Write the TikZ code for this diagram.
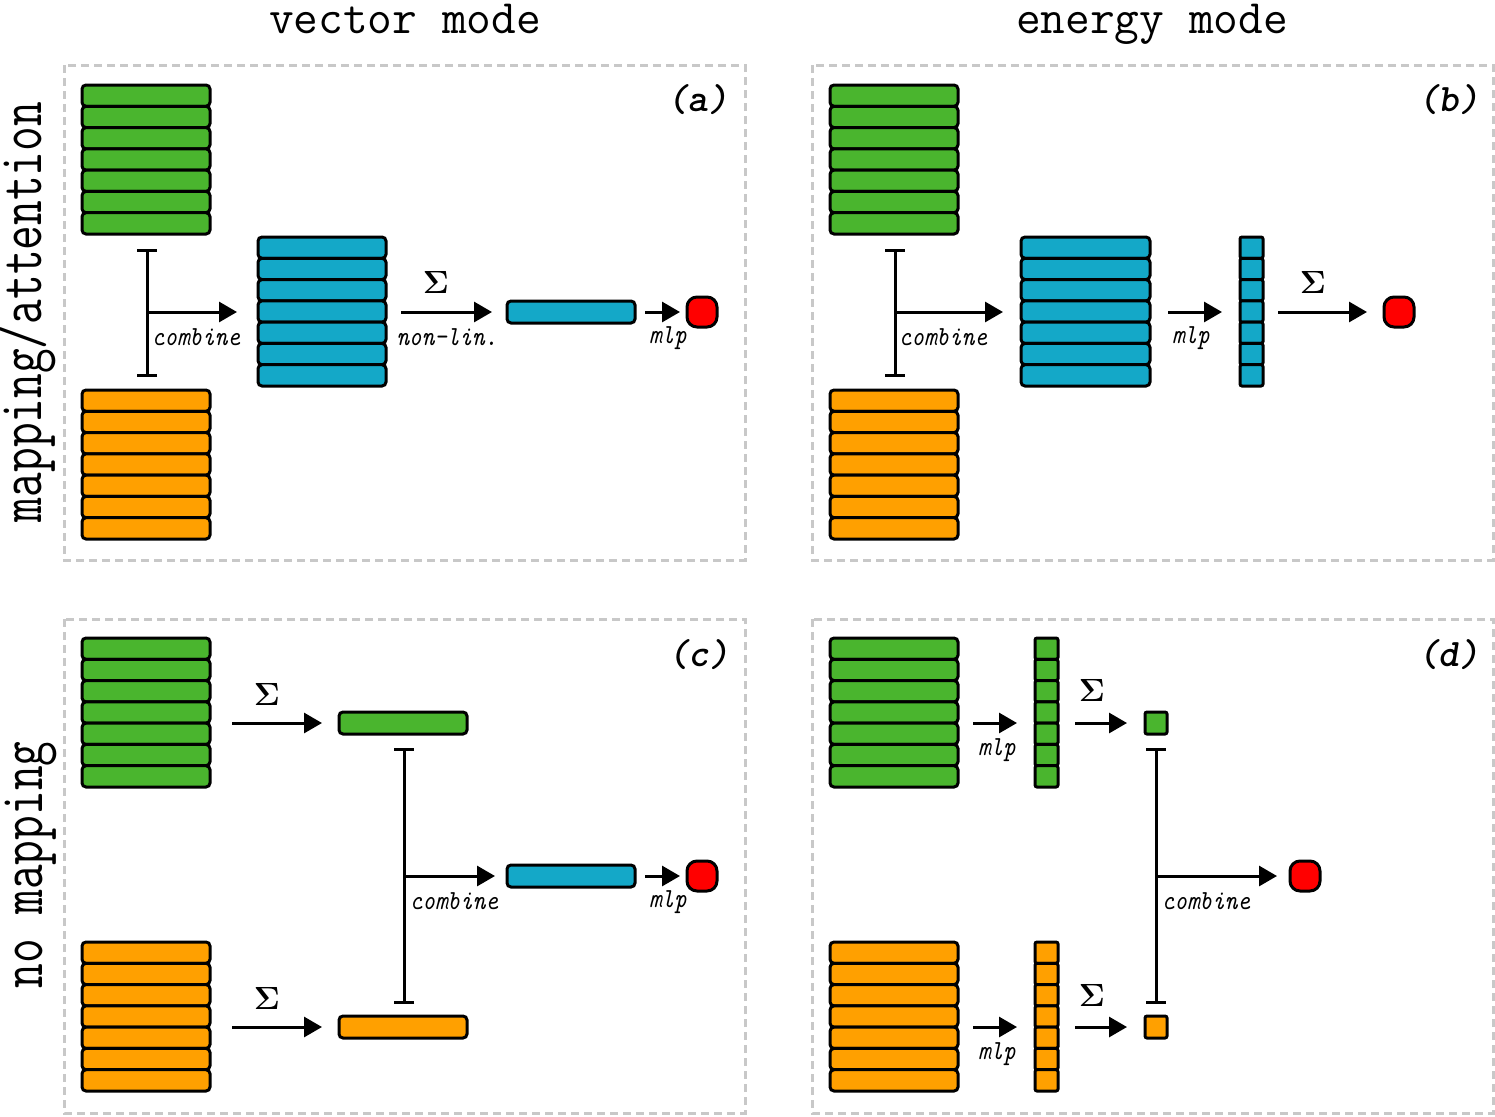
\documentclass[tikz,border=0pt]{standalone}
\usetikzlibrary{arrows.meta}
\definecolor{cgreen}{HTML}{4AB52E}
\definecolor{corange}{HTML}{FFA000}
\definecolor{cblue}{HTML}{14A8C8}
\definecolor{cred}{HTML}{FF0000}
\definecolor{cgray}{HTML}{C8C8C8}
\newcommand\hstk[6]{%
  \foreach \i in {0,...,6} {\draw[bar, fill=#6] (#2,{#3+\i*(#5-#3)/7}) rectangle (#4,{#3+(\i+1)*(#5-#3)/7});}
  \coordinate (#1) at ({(#2+#4)/2},{(#3+#5)/2});}
\newcommand\vstk[6]{%
  \foreach \i in {0,...,6} {\draw[cell, fill=#6] (#2,{#3+\i*(#5-#3)/7}) rectangle (#4,{#3+(\i+1)*(#5-#3)/7});}
  \coordinate (#1) at ({(#2+#4)/2},{(#3+#5)/2});}
\tikzset{
  panel/.style={draw=cgray, line width=3pt, dash pattern=on 8pt off 5pt},
  bar/.style={draw=black, line width=3pt, rounded corners=4pt},
  cell/.style={draw=black, line width=3pt, rounded corners=2pt},
  onebar/.style={draw=black, line width=3pt, rounded corners=4pt, minimum width=128pt, minimum height=22pt, inner sep=0},
  sq/.style={draw=black, line width=3pt, rounded corners=2pt, minimum size=22pt, inner sep=0},
  arr/.style={line width=3pt, -{Triangle[length=18pt,width=20pt]}},
  tbar/.style={line width=3pt, {Bar[width=20pt]}-{Bar[width=20pt]}},
  lbl/.style={font=\fontsize{24}{26}\selectfont\ttfamily\itshape, inner sep=0, yscale=1.15},
  sig/.style={font=\Huge, scale=1.29, inner sep=0},
  head/.style={font=\fontsize{48}{52}\selectfont\ttfamily, inner sep=0, anchor=base},
  rowlab/.style={font=\fontsize{48}{52}\selectfont\ttfamily, inner sep=0, anchor=base, rotate=90, yscale=1.3},
  plab/.style={font=\fontsize{39}{42}\selectfont\ttfamily\bfseries\itshape, inner sep=0},
  dot/.style={draw=black, fill=cred, line width=3pt, rounded corners=10pt, minimum size=30pt, inner sep=0},
}
\newcommand\sgm{$\mathbf{\Sigma}$}
\begin{document}
\begin{tikzpicture}[x=1pt,y=-1pt]
\useasboundingbox (0,0) rectangle (1495,1116);
% headings
\node[head] (h1) at (405,34) {vector mode};
\node[head] (h2) at (1152,34) {energy mode};
\node[rowlab] (r1) at (41,312) {mapping/attention};
\node[rowlab] (r2) at (42,865) {no mapping};
% panels
\draw[panel] (64,65) rectangle (745,560);
\draw[panel] (812,65) rectangle (1493,560);
\draw[panel] (64,619) rectangle (745,1113);
\draw[panel] (812,619) rectangle (1493,1113);
\node[plab] (la) at (698,100) {(a)};
\node[plab] (lb) at (1449,100) {(b)};
\node[plab] (lc) at (699,655) {(c)};
\node[plab] (ld) at (1449,655) {(d)};

% ---------- panel (a)
\hstk{ga}{82}{85}{210}{234}{cgreen}
\hstk{oa}{82}{390}{210}{539}{corange}
\coordinate (ta1) at (147,249); \coordinate (ta2) at (147,377);
\draw[tbar] (ta1) -- (ta2);
\coordinate (aa1) at (147,312); \coordinate (aa2) at (237,312);
\draw[arr] (aa1) -- (aa2);
\node[lbl] (ca) at (196,337) {combine};
\hstk{ba}{258}{237}{386}{386}{cblue}
\coordinate (ab1) at (401,312); \coordinate (ab2) at (492,312);
\draw[arr] (ab1) -- (ab2);
\node[sig] (sa) at (436,282) {\sgm};
\node[lbl] (na) at (447,337) {non-lin.};
\node[onebar, fill=cblue] (va) at (571,312) {};
\coordinate (ac1) at (645,312); \coordinate (ac2) at (680,312);
\draw[arr] (ac1) -- (ac2);
\node[lbl] (ma) at (668,338) {mlp};
\node[dot] (da) at (702,312) {};

% ---------- panel (b)
\hstk{gb}{830}{85}{958}{234}{cgreen}
\hstk{ob}{830}{390}{958}{539}{corange}
\coordinate (tb1) at (895,249); \coordinate (tb2) at (895,377);
\draw[tbar] (tb1) -- (tb2);
\coordinate (ba1) at (895,312); \coordinate (ba2) at (1003,312);
\draw[arr] (ba1) -- (ba2);
\node[lbl] (cb) at (943,337) {combine};
\hstk{bb}{1021}{237}{1150}{386}{cblue}
\coordinate (bb1) at (1168,312); \coordinate (bb2) at (1222,312);
\draw[arr] (bb1) -- (bb2);
\node[lbl] (mb) at (1191,338) {mlp};
\vstk{vb}{1240}{237}{1263}{386}{cblue}
\coordinate (bc1) at (1278,312); \coordinate (bc2) at (1367,312);
\draw[arr] (bc1) -- (bc2);
\node[sig] (sb) at (1313,282) {\sgm};
\node[dot] (db) at (1399,312) {};

% ---------- panel (c)
\hstk{gc}{82}{638}{210}{787}{cgreen}
\hstk{oc}{82}{942}{210}{1091}{corange}
\coordinate (ca1) at (232,723); \coordinate (ca2) at (322,723);
\draw[arr] (ca1) -- (ca2);
\node[sig] (sc1) at (267,694) {\sgm};
\node[onebar, fill=cgreen] (gbc) at (403,723) {};
\coordinate (cb1) at (232,1027); \coordinate (cb2) at (322,1027);
\draw[arr] (cb1) -- (cb2);
\node[sig] (sc2) at (267,998) {\sgm};
\node[onebar, fill=corange] (obc) at (403,1027) {};
\coordinate (tc1) at (404,748); \coordinate (tc2) at (404,1004);
\draw[tbar] (tc1) -- (tc2);
\coordinate (cc1) at (404,876); \coordinate (cc2) at (495,876);
\draw[arr] (cc1) -- (cc2);
\node[lbl] (cmc) at (454,901) {combine};
\node[onebar, fill=cblue] (vc) at (571,876) {};
\coordinate (cd1) at (645,876); \coordinate (cd2) at (680,876);
\draw[arr] (cd1) -- (cd2);
\node[lbl] (mc) at (668,902) {mlp};
\node[dot] (dc) at (702,876) {};

% ---------- panel (d)
\hstk{gd}{830}{638}{958}{787}{cgreen}
\hstk{od}{830}{942}{958}{1091}{corange}
\coordinate (da1) at (973,723); \coordinate (da2) at (1017,723);
\draw[arr] (da1) -- (da2);
\node[lbl] (md1) at (997,750) {mlp};
\vstk{vgd}{1035}{638}{1058}{787}{cgreen}
\coordinate (db1) at (1075,723); \coordinate (db2) at (1127,723);
\draw[arr] (db1) -- (db2);
\node[sig] (sd1) at (1092,690) {\sgm};
\node[sq, fill=cgreen] (qg) at (1156,723) {};
\coordinate (dc1) at (973,1027); \coordinate (dc2) at (1017,1027);
\draw[arr] (dc1) -- (dc2);
\node[lbl] (md2) at (997,1054) {mlp};
\vstk{vod}{1035}{942}{1058}{1091}{corange}
\coordinate (dd1) at (1075,1027); \coordinate (dd2) at (1127,1027);
\draw[arr] (dd1) -- (dd2);
\node[sig] (sd2) at (1092,995) {\sgm};
\node[sq, fill=corange] (qo) at (1156,1027) {};
\coordinate (td1) at (1156,748); \coordinate (td2) at (1156,1004);
\draw[tbar] (td1) -- (td2);
\coordinate (de1) at (1156,876); \coordinate (de2) at (1277,876);
\draw[arr] (de1) -- (de2);
\node[lbl] (cmd) at (1206,901) {combine};
\node[dot] (dd) at (1305,876) {};
\end{tikzpicture}
\end{document}
